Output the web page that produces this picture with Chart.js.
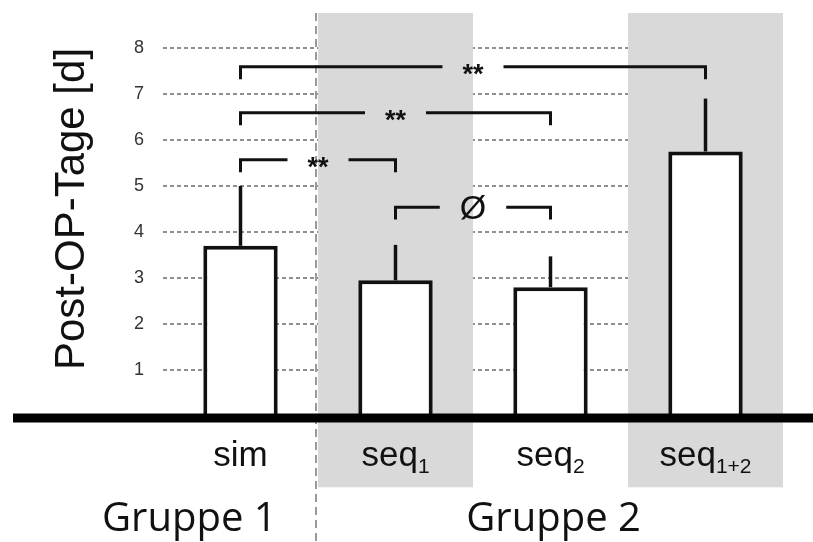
<!DOCTYPE html>
<html>
<head>
<meta charset="utf-8">
<script src="https://cdn.jsdelivr.net/npm/chart.js@4"></script>
<style>
  html, body { margin: 0; padding: 0; background: #fff; }
  #wrap { width: 813px; height: 542px; position: relative; }
</style>
</head>
<body>
<div id="wrap"><canvas id="postOpChart"></canvas></div>
<script>
// Post-OP-Tage je Gruppe, Mittelwert + SD (nur nach oben)

const categories = ["sim", "seq1", "seq2", "seq1+2"];
const labelBase = ["sim", "seq", "seq", "seq"];
const labelSub = ["", "1", "2", "1+2"];
const meanDays = [3.7, 2.95, 2.8, 5.75];
const sdDays = [1.3, 0.77, 0.67, 1.15];
const yTicks = [1, 2, 3, 4, 5, 6, 7, 8];
const shadedCategories = [1, 3];

// Signifikanz-Klammern
const bracketFrom = [0, 0, 0, 1];
const bracketTo = [3, 2, 1, 2];
const bracketLevel = [7.59, 6.59, 5.57, 4.54];
const bracketLabel = ["**", "**", "**", "Ø"];

const groupNames = ["Gruppe 1", "Gruppe 2"];
const groupCenter = [-0.33, 2.02];

const FONT = "'Liberation Sans', Arial, sans-serif";

const decorPlugin = {
  id: "decor",
  beforeDatasetsDraw(chart) {
    const { ctx, scales } = chart;
    const x = scales.x;
    const y = scales.y;
    const half = (x.getPixelForValue(1) - x.getPixelForValue(0)) / 2;

    ctx.save();
    // graue Hintergrundflaechen
    ctx.fillStyle = "#d9d9d9";
    shadedCategories.forEach((i) => {
      const cx = x.getPixelForValue(i);
      const top = y.getPixelForValue(8.76);
      const bottom = y.getPixelForValue(-1.55);
      ctx.fillRect(cx - half, top, half * 2, bottom - top);
    });
    ctx.restore();
  },
  afterDatasetsDraw(chart) {
    const { ctx, scales } = chart;
    const x = scales.x;
    const y = scales.y;
    const half = (x.getPixelForValue(1) - x.getPixelForValue(0)) / 2;

    ctx.save();

    // Fehlerbalken nach oben
    ctx.strokeStyle = "#111";
    ctx.lineWidth = 3.5;
    meanDays.forEach((m, i) => {
      const cx = x.getPixelForValue(i);
      ctx.beginPath();
      ctx.moveTo(cx, y.getPixelForValue(m));
      ctx.lineTo(cx, y.getPixelForValue(m + sdDays[i]));
      ctx.stroke();
    });

    // Trennlinie Gruppe 1 / Gruppe 2
    ctx.strokeStyle = "#999";
    ctx.lineWidth = 2;
    ctx.setLineDash([8, 5]);
    const sepX = x.getPixelForValue(0) + half - 2;
    ctx.beginPath();
    ctx.moveTo(sepX, y.getPixelForValue(8.76));
    ctx.lineTo(sepX, chart.height);
    ctx.stroke();
    ctx.setLineDash([]);

    // Grundlinie
    ctx.strokeStyle = "#000";
    ctx.lineWidth = 9;
    const baseY = y.getPixelForValue(0) + 2;
    ctx.beginPath();
    ctx.moveTo(13, baseY);
    ctx.lineTo(chart.width, baseY);
    ctx.stroke();

    // Klammern mit Signifikanz
    const drop = y.getPixelForValue(0) - y.getPixelForValue(0.27);
    bracketLevel.forEach((lvl, i) => {
      const x1 = x.getPixelForValue(bracketFrom[i]);
      const x2 = x.getPixelForValue(bracketTo[i]);
      const ly = y.getPixelForValue(lvl);
      const mid = (x1 + x2) / 2;
      const isStar = bracketLabel[i] === "**";
      ctx.font = isStar ? "bold 27px " + FONT : "34px " + FONT;
      const tw = ctx.measureText(bracketLabel[i]).width;
      const gap = tw / 2 + 20;

      ctx.strokeStyle = "#111";
      ctx.lineWidth = 3;
      ctx.beginPath();
      ctx.moveTo(x1, ly + drop);
      ctx.lineTo(x1, ly);
      ctx.lineTo(mid - gap, ly);
      ctx.moveTo(mid + gap, ly);
      ctx.lineTo(x2, ly);
      ctx.lineTo(x2, ly + drop);
      ctx.stroke();

      ctx.fillStyle = "#111";
      ctx.textAlign = "center";
      ctx.textBaseline = "alphabetic";
      ctx.fillText(bracketLabel[i], mid, isStar ? ly + 16 : ly + 12);
    });

    // Kategorie-Beschriftungen mit Index
    ctx.fillStyle = "#111";
    ctx.textBaseline = "alphabetic";
    labelBase.forEach((base, i) => {
      const cx = x.getPixelForValue(i);
      ctx.font = "35px " + FONT;
      const bw = ctx.measureText(base).width;
      ctx.font = "21px " + FONT;
      const sw = labelSub[i] ? ctx.measureText(labelSub[i]).width : 0;
      const left = cx - (bw + sw) / 2;
      ctx.textAlign = "left";
      ctx.font = "35px " + FONT;
      ctx.fillText(base, left, 466);
      if (labelSub[i]) {
        ctx.font = "21px " + FONT;
        ctx.fillText(labelSub[i], left + bw, 473);
      }
    });

    // Gruppen
    ctx.font = "40px 'Open Sans', Lato, sans-serif";
    ctx.textAlign = "center";
    groupNames.forEach((g, i) => {
      ctx.fillText(g, x.getPixelForValue(groupCenter[i]), 531);
    });

    // Achsentitel
    ctx.save();
    ctx.translate(84, (y.getPixelForValue(8) + y.getPixelForValue(1)) / 2);
    ctx.rotate(-Math.PI / 2);
    ctx.font = "42px " + FONT;
    ctx.textAlign = "center";
    ctx.textBaseline = "alphabetic";
    ctx.fillText("Post-OP-Tage [d]", 0, 0);
    ctx.restore();

    ctx.restore();
  },
};

Chart.defaults.font.family = FONT;

new Chart(document.getElementById("postOpChart"), {
  type: "bar",
  data: {
    labels: categories,
    datasets: [
      {
        data: meanDays,
        backgroundColor: "#ffffff",
        borderColor: "#111",
        borderWidth: 4,
        borderSkipped: "bottom",
        barPercentage: 0.48,
        categoryPercentage: 1,
      },
    ],
  },
  plugins: [decorPlugin],
  options: {
    responsive: true,
    maintainAspectRatio: false,
    animation: false,
    layout: {
      padding: { top: 48, right: 30, bottom: 126, left: 0 },
    },
    plugins: {
      legend: { display: false },
      tooltip: { enabled: false },
    },
    scales: {
      x: {
        display: false,
      },
      y: {
        min: 0,
        max: 8,
        afterFit: (scale) => {
          scale.width = 163;
        },
        afterBuildTicks: (scale) => {
          scale.ticks = [0].concat(yTicks).map((v) => ({ value: v }));
        },
        border: { display: false, dash: [4, 3] },
        grid: {
          drawTicks: false,
          color: (c) => (c.tick.value === 0 ? "rgba(0,0,0,0)" : "#8f8f8f"),
          lineWidth: 2,
        },
        ticks: {
          padding: 19,
          color: "#333",
          font: { size: 18 },
          callback: (v) => (v === 0 ? "" : v),
        },
      },
    },
  },
});
</script>
</body>
</html>
